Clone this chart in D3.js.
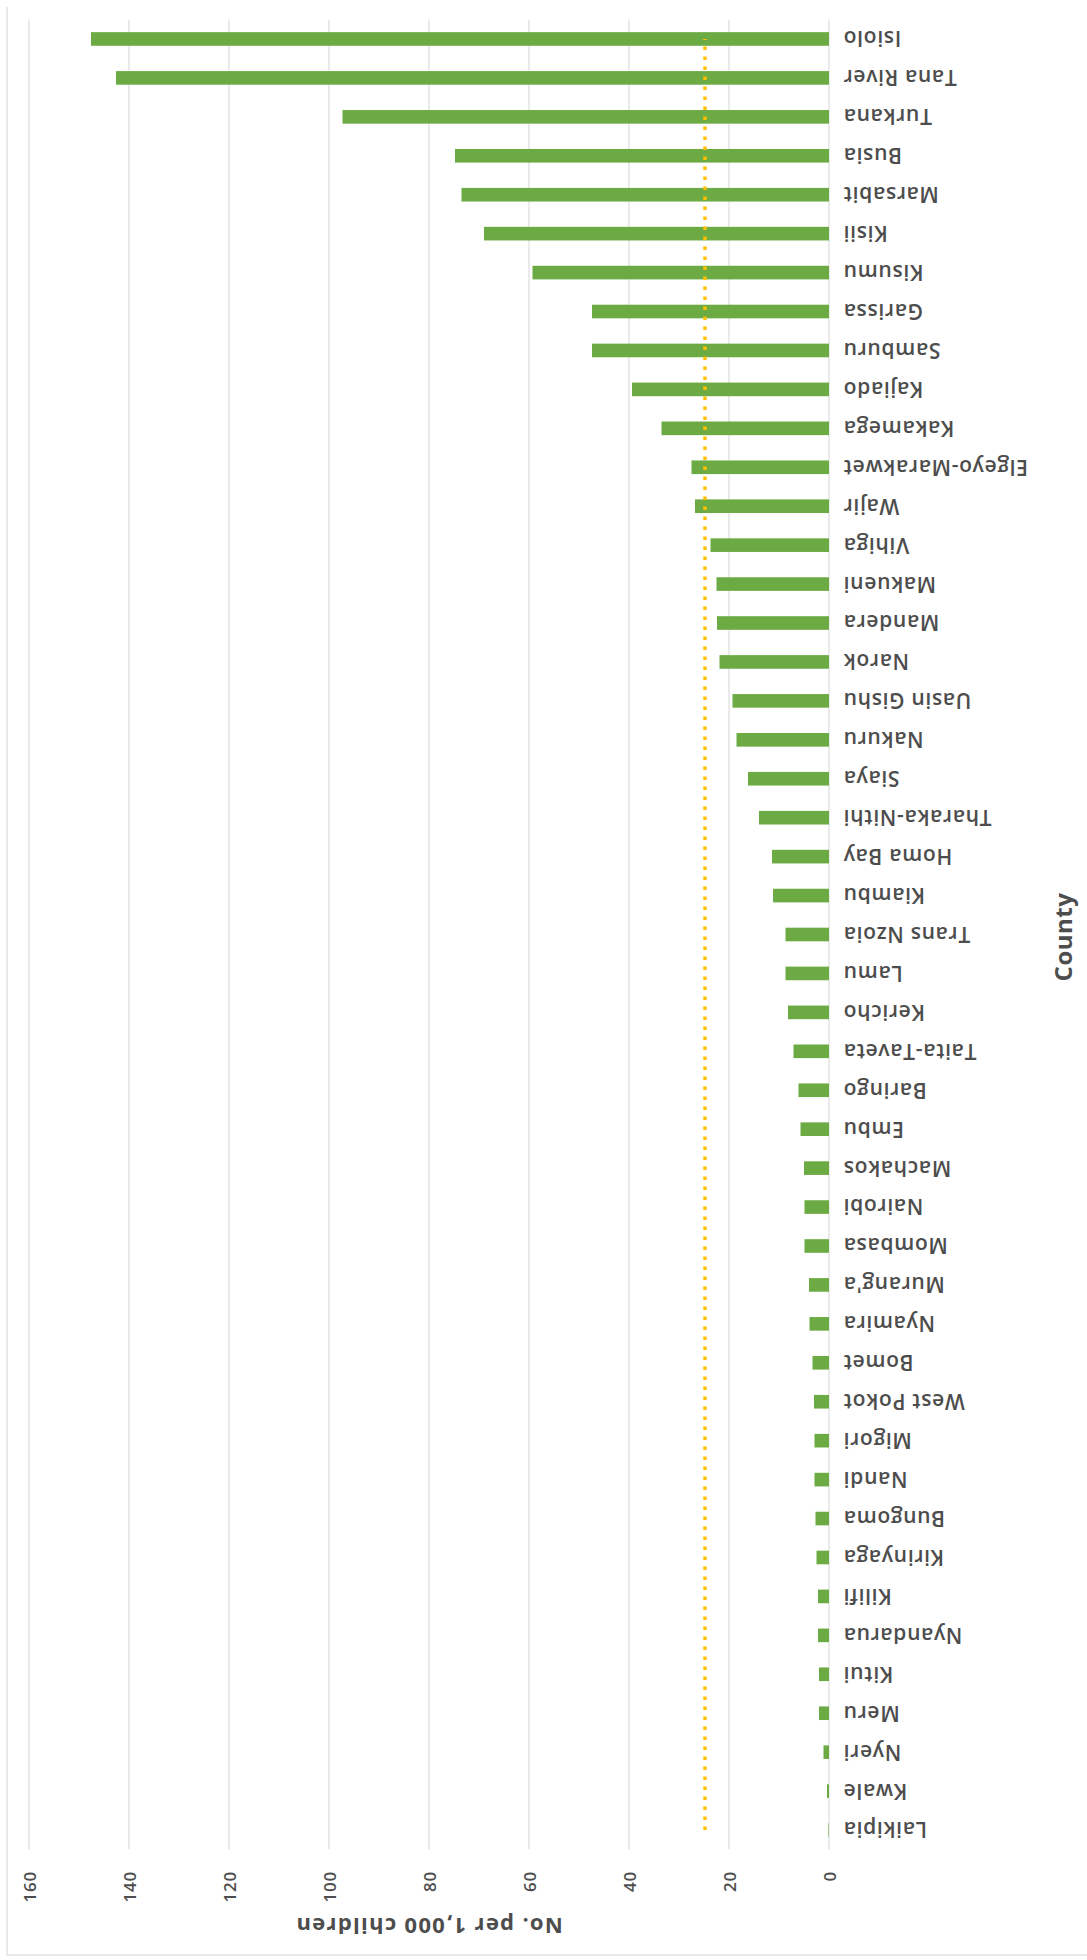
<!DOCTYPE html>
<html>
<head>
<meta charset="utf-8">
<script src="https://cdn.jsdelivr.net/npm/d3@7"></script>
<style>
  html, body { margin: 0; padding: 0; background: #ffffff; }
  svg { display: block; }
</style>
</head>
<body>
<div id="chart"></div>
<script>
// ---- data (original column chart order: left -> right) ----
const counties = ["Laikipia","Kwale","Nyeri","Meru","Kitui","Nyandarua","Kilifi","Kirinyaga","Bungoma","Nandi",
  "Migori","West Pokot","Bomet","Nyamira","Murang'a","Mombasa","Nairobi","Machakos","Embu","Baringo",
  "Taita-Taveta","Kericho","Lamu","Trans Nzoia","Kiambu","Homa Bay","Tharaka-Nithi","Siaya","Nakuru","Uasin Gishu",
  "Narok","Mandera","Makueni","Vihiga","Wajir","Elgeyo-Marakwet","Kakamega","Kajiado","Samburu","Garissa",
  "Kisumu","Kisii","Marsabit","Busia","Turkana","Tana River","Isiolo"];
const values = [0.1,0.4,1.1,2.0,2.0,2.2,2.2,2.5,2.7,2.9,
  2.9,3.0,3.3,3.9,4.0,4.9,4.9,5.0,5.7,6.1,
  7.1,8.2,8.7,8.7,11.2,11.4,14.0,16.2,18.5,19.3,
  21.9,22.4,22.5,23.7,26.8,27.5,33.5,39.4,47.4,47.4,
  59.3,69.0,73.5,74.8,97.3,142.6,147.6];
const averageValue = 24.8;
const valueTicks = [0,20,40,60,80,100,120,140,160];
const valueTitle = "No. per 1,000 children";
const categoryTitle = "County";

// ---- page / rotation setup ----
const PW = 1087, PH = 1960;       // page size

const svg = d3.select("#chart").append("svg")
  .attr("width", PW).attr("height", PH);

// faint chart-area border
svg.append("line").attr("x1",7).attr("x2",7).attr("y1",7).attr("y2",1955)
  .attr("stroke","#e3e3e3").attr("stroke-width",1.5);
svg.append("line").attr("x1",7).attr("x2",PW).attr("y1",1955).attr("y2",1955)
  .attr("stroke","#e3e3e3").attr("stroke-width",1.5);

// original chart drawn rotated -90deg (page x = oy, page y = PH - ox)
const g = svg.append("g").attr("transform", `translate(0,${PH}) rotate(-90)`);

const x = d3.scaleBand().domain(counties).range([110.5, 1940.5]).paddingInner(0.65).paddingOuter(0.325);
const y = d3.scaleLinear().domain([0,160]).range([829, 29]);

const fontFam = "'Open Sans', 'Noto Sans', sans-serif";
const textCol = "#4d4d4d";

// gridlines
g.append("g").selectAll("line").data(valueTicks).join("line")
  .attr("x1", 110.5).attr("x2", 1940.5)
  .attr("y1", d => y(d)).attr("y2", d => y(d))
  .attr("stroke", "#dcdcdc").attr("stroke-width", 1.2);

// bars
g.append("g").selectAll("rect").data(counties).join("rect")
  .attr("x", (d) => x(d))
  .attr("width", x.bandwidth())
  .attr("y", (d,i) => y(values[i]))
  .attr("height", (d,i) => y(0) - y(values[i]))
  .attr("fill", "#6cab43");

// average dotted line
const lineGen = d3.line().x(d => x(d) + x.bandwidth()/2).y(() => y(averageValue));
g.append("path").datum(counties)
  .attr("d", lineGen)
  .attr("fill","none")
  .attr("stroke","#ffc000")
  .attr("stroke-width",3.5)
  .attr("stroke-dasharray","3.5 6.5");

// category axis labels
const xAxis = d3.axisBottom(x).tickSize(0).tickPadding(0);
const xg = g.append("g").attr("transform", `translate(0,${y(0)})`).call(xAxis);
xg.select(".domain").remove();
xg.selectAll("text")
  .attr("transform", "translate(0,14) rotate(-90)")
  .attr("text-anchor", "end")
  .attr("x", 0).attr("y", 0).attr("dy", "0.36em")
  .style("font-family", fontFam).style("font-size", "21px")
  .style("font-weight", "600")
  .style("letter-spacing", "0.7px")
  .attr("fill", textCol);

// value axis labels
const yAxis = d3.axisLeft(y).tickValues(valueTicks).tickSize(0).tickPadding(0);
const yg = g.append("g").attr("transform", `translate(89,0)`).call(yAxis);
yg.select(".domain").remove();
yg.selectAll("text")
  .attr("x", 0).attr("dy", "0.36em")
  .attr("text-anchor", "end")
  .style("font-family", fontFam).style("font-size", "17px")
  .style("font-weight", "600")
  .style("letter-spacing", "0.8px")
  .attr("fill", textCol);

// value axis title
g.append("text")
  .attr("transform", `translate(42,${(y(0)+y(160))/2}) rotate(-90)`)
  .attr("text-anchor","middle")
  .style("font-family", fontFam).style("font-size","22px").style("font-weight","bold")
  .style("letter-spacing","1.3px")
  .attr("fill", textCol)
  .text(valueTitle);

// category axis title
g.append("text")
  .attr("x", 1023).attr("y", 1072)
  .attr("text-anchor","middle")
  .style("font-family", fontFam).style("font-size","24px").style("font-weight","bold")
  .style("letter-spacing","0.5px")
  .attr("fill", textCol)
  .text(categoryTitle);
</script>
</body>
</html>
